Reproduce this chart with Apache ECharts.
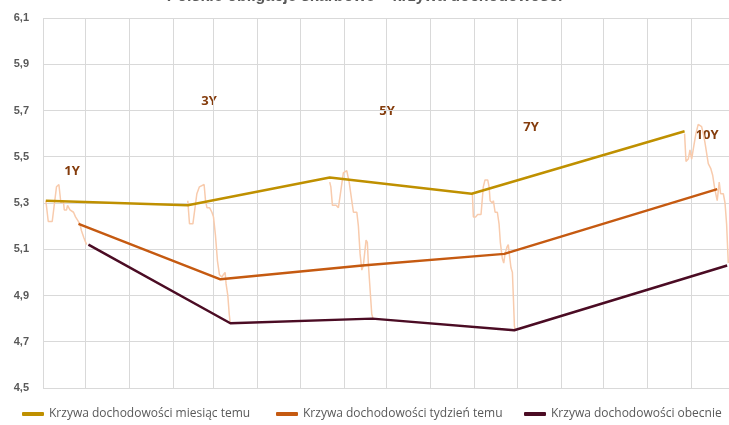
<!DOCTYPE html>
<html>
<head>
<meta charset="utf-8">
<script src="https://cdn.jsdelivr.net/npm/echarts@6/dist/echarts.min.js"></script>
<style>
  html, body { margin: 0; padding: 0; background: #fff; }
  #chart { width: 729px; height: 425px; }
</style>
</head>
<body>
<div id="chart"></div>
<script>
// tenor blocks on the date axis (days counted from 2022-11-01)
var tenors = ['1Y', '3Y', '5Y', '7Y', '10Y'];
var tenorDay = [2, 102, 202, 302, 452];
var lagMonth = 0, lagWeek = 23, lagNow = 30;

var seriesNames = [
  'Krzywa dochodowości miesiąc temu',
  'Krzywa dochodowości tydzień temu',
  'Krzywa dochodowości obecnie'
];
var monthAgo = [5.31, 5.29, 5.41, 5.34, 5.61];
var weekAgo = [5.21, 4.97, 5.03, 5.08, 5.36];
var current = [5.12, 4.78, 4.80, 4.75, 5.03];

// daily yields over the last month, [day in block, yield]
var daily1Y = [[0,5.31],[1.7,5.22],[4.5,5.22],[7.5,5.37],[9.2,5.38],[9.9,5.34],[10.6,5.30],[12.3,5.31],[13,5.27],[14.6,5.27],[15.3,5.29],[17,5.27],[19.5,5.26],[20.9,5.24],[22.3,5.24],[24,5.21],[25.1,5.18],[26.8,5.15],[28.7,5.12]];
var daily3Y = [[0,5.31],[1.2,5.21],[3.6,5.21],[6.4,5.34],[8.2,5.37],[11.5,5.38],[12.5,5.31],[13.5,5.28],[15.3,5.28],[17,5.26],[18.1,5.24],[19.5,5.16],[20.9,5.05],[22.3,4.99],[24,4.98],[25.1,4.99],[26.3,5.00],[27,4.95],[28.2,4.90],[29.2,4.82],[29.9,4.78]];
var daily5Y = [[0,5.39],[0.8,5.37],[1.9,5.29],[4.5,5.29],[6.1,5.28],[7.3,5.33],[9.6,5.43],[12,5.44],[13.7,5.39],[16.7,5.26],[19.1,5.26],[20.2,5.20],[21.4,5.08],[22.6,5.01],[23.7,5.03],[25.6,5.14],[26.5,5.13],[27.3,5.03],[29.6,4.82],[30.5,4.80]];
var daily7Y = [[0.5,5.34],[1.2,5.24],[2.9,5.24],[4.2,5.25],[6.6,5.25],[8.2,5.37],[9.4,5.40],[11.3,5.40],[12.3,5.37],[13,5.31],[14.6,5.30],[15.3,5.31],[16.5,5.26],[18.1,5.26],[19.3,5.21],[20.2,5.13],[21.6,5.06],[22.6,5.04],[23.5,5.08],[24.9,5.11],[25.8,5.12],[26.5,5.08],[27.7,5.02],[28.7,5.00],[29.4,4.89],[30.1,4.77],[30.6,4.75]];
var daily10Y = [[0,5.60],[1,5.48],[2.6,5.49],[3.8,5.53],[5,5.49],[6.6,5.55],[8,5.60],[9.6,5.64],[12,5.63],[13.2,5.60],[14.4,5.56],[16.7,5.47],[18.4,5.45],[19.8,5.42],[21.3,5.36],[23,5.31],[24.4,5.39],[25.4,5.34],[27.3,5.34],[28.5,5.30],[29.6,5.21],[30.8,5.04]];
var dailyAll = [daily1Y, daily3Y, daily5Y, daily7Y, daily10Y];

var DAY = 864e5;
var base = Date.UTC(2022, 10, 1);
function toTime(d) { return base + d * DAY; }

function curve(values, lag) {
  return values.map(function (v, i) { return [toTime(tenorDay[i] + lag), v]; });
}

var dailyData = [];
dailyAll.forEach(function (pts, i) {
  pts.forEach(function (p) { dailyData.push([toTime(tenorDay[i] + p[0]), p[1]]); });
  dailyData.push([toTime(tenorDay[i] + 40), '-']);
});

var labelPos = [[72, 171], [209, 101], [387, 111], [531, 127], [707, 135]];

var chartDom = document.getElementById('chart');
var myChart = echarts.init(chartDom);
var option;

function legendAt(name, left) {
  return {
    data: [name],
    left: left,
    top: 403,
    icon: 'roundRect',
    itemWidth: 22,
    itemHeight: 4,
    textStyle: { color: '#595959', fontSize: 12, fontFamily: 'Open Sans' }
  };
}

option = {
  useUTC: true,
  animation: false,
  title: {
    text: 'Polskie obligacje skarbowe – krzywa dochodowości',
    left: 'center',
    top: -16,
    textStyle: { color: '#595959', fontSize: 16, fontWeight: 'bold', fontFamily: 'Liberation Sans' }
  },
  legend: [
    legendAt(seriesNames[0], 17),
    legendAt(seriesNames[1], 271),
    legendAt(seriesNames[2], 519)
  ],
  grid: { left: 43, right: 0, top: 18, bottom: 37 },
  xAxis: {
    type: 'time',
    min: toTime(0),
    max: toTime(483.3),
    minInterval: 28 * DAY,
    maxInterval: 31 * DAY,
    axisLabel: { show: false },
    axisTick: { show: false },
    axisLine: { show: false },
    splitLine: { show: true, lineStyle: { color: '#D9D9D9', width: 1 } }
  },
  yAxis: {
    type: 'value',
    min: 4.5,
    max: 6.1,
    interval: 0.2,
    axisLine: { show: false },
    axisTick: { show: false },
    axisLabel: {
      margin: 14,
      color: '#595959',
      fontSize: 11,
      fontWeight: 'bold',
      fontFamily: 'Liberation Sans',
      formatter: function (v) { return v.toFixed(1).replace('.', ','); }
    },
    splitLine: { lineStyle: { color: '#D9D9D9', width: 1 } }
  },
  graphic: labelPos.map(function (p, i) {
    return {
      type: 'text',
      x: p[0],
      y: p[1],
      style: {
        text: tenors[i],
        fill: '#843C0C',
        font: 'bold 13px "Open Sans"',
        textAlign: 'center',
        textVerticalAlign: 'middle'
      }
    };
  }),
  series: [
    {
      name: 'dzienne',
      type: 'line',
      data: dailyData,
      showSymbol: false,
      connectNulls: false,
      silent: true,
      z: 1,
      lineStyle: { color: '#F8CBAD', width: 1.5 }
    },
    {
      name: seriesNames[0],
      type: 'line',
      data: curve(monthAgo, lagMonth),
      showSymbol: false,
      z: 3,
      itemStyle: { color: '#BF9000' },
      lineStyle: { color: '#BF9000', width: 2.5 }
    },
    {
      name: seriesNames[1],
      type: 'line',
      data: curve(weekAgo, lagWeek),
      showSymbol: false,
      z: 3,
      itemStyle: { color: '#C55A11' },
      lineStyle: { color: '#C55A11', width: 2.5 }
    },
    {
      name: seriesNames[2],
      type: 'line',
      data: curve(current, lagNow),
      showSymbol: false,
      z: 3,
      itemStyle: { color: '#4B0C24' },
      lineStyle: { color: '#4B0C24', width: 2.5 }
    }
  ]
};

option && myChart.setOption(option);
</script>
</body>
</html>
